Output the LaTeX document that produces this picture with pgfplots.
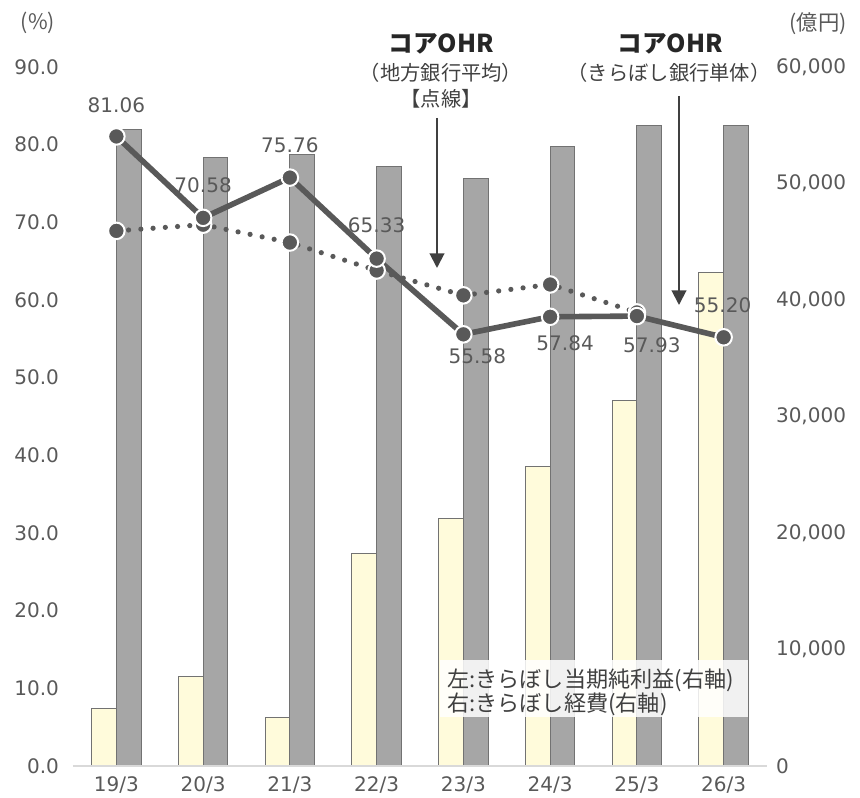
\documentclass[border=0pt]{standalone}
\usepackage{fontspec}
\setmainfont{DejaVu Sans}
\newfontfamily\jp{Noto Sans CJK JP}
\usepackage{pgfplots}
\usepackage{pgfplotstable}
\pgfplotsset{compat=1.18}
\usetikzlibrary{arrows.meta}
\definecolor{txt}{HTML}{595959}
\definecolor{linec}{HTML}{595959}
\definecolor{bargray}{HTML}{A6A6A6}
\definecolor{barbord}{HTML}{727272}
\definecolor{baryel}{HTML}{FFFBDB}
\definecolor{axisgray}{HTML}{D9D9D9}
\definecolor{titlec}{HTML}{262626}
\definecolor{subc}{HTML}{404040}

\pgfplotstableread{
x yel gray
0 4919 54654
1 7666 52251
2 4180 52448
3 18198 51444
4 21202 50448
5 25692 53161
6 31392 54938
7 42345 54938
}\bars

\pgfplotstableread{
x kira avg
0 81.06 68.9
1 70.58 69.7
2 75.76 67.4
3 65.33 63.8
4 55.58 60.6
5 57.84 62.0
6 57.93 58.4
7 55.20 nan
}\ohr

\begin{document}
\begin{tikzpicture}
\useasboundingbox (-54.75pt,-23.25pt) rectangle (590.25pt,574.5pt);

% right axis: bars
\begin{axis}[
  at={(0,0)}, anchor=south west,
  scale only axis, width=520.5pt, height=524.25pt,
  xmin=-0.5, xmax=7.5, ymin=0, ymax=60000,
  axis x line=none, xtick=\empty,
  axis y line*=right,
  y axis line style={draw=none},
  ytick={0,10000,...,60000},
  major tick length=0pt,
  scaled y ticks=false,
  yticklabel style={font=\fontsize{15}{18}\selectfont, text=txt, xshift=3.25pt,
    /pgf/number format/.cd, fixed, 1000 sep={,}, assume math mode=true},
  bar width=0.285,
]
\addplot[ybar, bar shift=-0.1425, fill=baryel, draw=barbord, line width=0.75pt] table[x=x,y=yel]{\bars};
\addplot[ybar, bar shift=0.1425, fill=bargray, draw=barbord, line width=0.75pt] table[x=x,y=gray]{\bars};
\end{axis}

% left axis: OHR lines
\begin{axis}[
  at={(0,0)}, anchor=south west,
  scale only axis, width=520.5pt, height=524.25pt,
  xmin=-0.5, xmax=7.5, ymin=0, ymax=90,
  axis y line*=left, axis x line*=bottom,
  y axis line style={draw=none},
  x axis line style={draw=axisgray, line width=1.1pt},
  xtick={0,...,7},
  xticklabels={19/3,20/3,21/3,22/3,23/3,24/3,25/3,26/3},
  ytick={0,10,...,90},
  major tick length=0pt,
  tick label style={font=\fontsize{15}{18}\selectfont, text=txt},
  xticklabel style={yshift=-4.25pt},
  yticklabel style={xshift=-7pt, /pgf/number format/.cd, fixed, fixed zerofill, precision=1, assume math mode=true},
  clip=false,
]
\addplot[linec, line width=3.9pt, line cap=round, dash pattern=on 0pt off 9.2pt,
  mark=*, mark size=6.2pt, mark options={solid, fill=linec, draw=white, line width=1.5pt}]
  table[x=x,y=avg]{\ohr};
\addplot[linec, line width=4.2pt,
  mark=*, mark size=6.2pt, mark options={solid, fill=linec, draw=white, line width=1.5pt}]
  table[x=x,y=kira]{\ohr};
\tikzset{lbl/.style={font=\fontsize{15}{18}\selectfont, text=txt, inner sep=0pt}}
\node[lbl, yshift=23.6pt] at (axis cs:0,81.06) {81.06};
\node[lbl, yshift=24.75pt] at (axis cs:1,70.58) {70.58};
\node[lbl, yshift=24.5pt] at (axis cs:2,75.76) {75.76};
\node[lbl, yshift=25.2pt] at (axis cs:3,65.33) {65.33};
\node[lbl, xshift=10.5pt, yshift=-16.1pt] at (axis cs:4,55.58) {55.58};
\node[lbl, xshift=11.25pt, yshift=-20pt] at (axis cs:5,57.84) {57.84};
\node[lbl, xshift=11.25pt, yshift=-22.1pt] at (axis cs:6,57.93) {57.93};
\node[lbl, xshift=-0.75pt, yshift=24pt] at (axis cs:7,55.20) {55.20};
\end{axis}

% annotations in pixel coordinates of the reference
\begin{scope}[shift={(-54.75pt,574.5pt)}, x=0.75pt, y=-0.75pt]
\node[font=\jp\bfseries\fontsize{18.5}{20}\selectfont, text=titlec] at (441,44) {コアOHR};
\node[font=\jp\fontsize{15.2}{16}\selectfont, text=subc] at (441,73) {（地方銀行平均）};
\node[font=\jp\fontsize{15.2}{16}\selectfont, text=subc] at (441,99) {【点線】};
\node[font=\jp\bfseries\fontsize{18.5}{20}\selectfont, text=titlec] at (670,44) {コアOHR};
\node[font=\jp\fontsize{15.2}{16}\selectfont, text=subc] at (669,73) {（きらぼし銀行単体）};
\draw[subc, line width=1.5pt, -{Triangle[width=11pt,length=11pt]}] (437,118) -- (437,268);
\draw[subc, line width=1.5pt, -{Triangle[width=11pt,length=11pt]}] (679,96) -- (679,305);
\node[font=\jp\fontsize{16}{18}\selectfont, text=txt] at (38,23) {(\%)};
\node[font=\jp\fontsize{16}{18}\selectfont, text=txt] at (818,24) {(億円)};
\fill[white, opacity=0.85] (440,660) rectangle (748,717);
\node[anchor=west, align=left, inner sep=0pt, font=\jp\fontsize{16.6}{16.7}\selectfont, text=subc] at (447,692.5)
  {左:きらぼし当期純利益(右軸)\\右:きらぼし経費(右軸)};
\end{scope}
\end{tikzpicture}
\end{document}
